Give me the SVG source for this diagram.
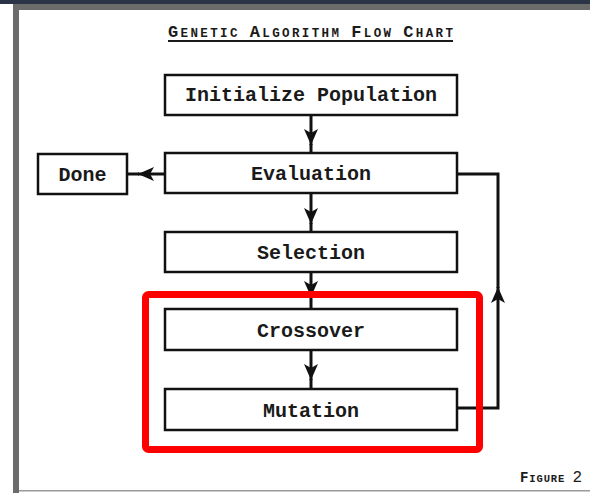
<svg xmlns="http://www.w3.org/2000/svg" width="590" height="493" viewBox="0 0 590 493">
<style>
.box{fill:#fff;stroke:#111;stroke-width:2.5}
.lbl{font-family:"Liberation Mono","DejaVu Sans Mono",monospace;font-weight:bold;font-size:20px;fill:#1a1a1a;text-anchor:middle}
.con{fill:none;stroke:#111;stroke-width:3}
.sc{font-family:"Liberation Mono","DejaVu Sans Mono",monospace;font-weight:bold;fill:#1a1a1a}
</style>
<defs>
<marker id="ah" markerUnits="userSpaceOnUse" markerWidth="18" markerHeight="14" refX="16" refY="7" orient="auto" viewBox="0 0 18 14">
<path d="M0,0 L16,7 L0,14 L4,7 z" fill="#111"/>
</marker>
</defs>
<rect x="0" y="0" width="590" height="493" fill="#fff"/>
<rect x="0" y="0" width="590" height="4" fill="#2b3346"/>
<rect x="13" y="4" width="577" height="6" fill="#6b6b6b"/>
<rect x="13" y="4" width="6" height="489" fill="#6b6b6b"/>
<rect x="19" y="490" width="571" height="1.5" fill="#9a9a9a"/>

<g id="title">
<text class="sc" x="168" y="37" textLength="285" lengthAdjust="spacing"><tspan font-size="17">G</tspan><tspan font-size="12.5">ENETIC  </tspan><tspan font-size="17">A</tspan><tspan font-size="12.5">LGORITHM  </tspan><tspan font-size="17">F</tspan><tspan font-size="12.5">LOW  </tspan><tspan font-size="17">C</tspan><tspan font-size="12.5">HART</tspan></text>
<rect x="168" y="40" width="285" height="2" fill="#1a1a1a"/>
</g>

<g id="connectors">
<path class="con" d="M311,115 V145" marker-end="url(#ah)"/><path class="con" d="M311,144 V153"/>
<path class="con" d="M311,193 V224" marker-end="url(#ah)"/><path class="con" d="M311,223 V232"/>
<path class="con" d="M311,272 V297" marker-end="url(#ah)"/><path class="con" d="M311,296 V309"/>
<path class="con" d="M311,350 V380" marker-end="url(#ah)"/><path class="con" d="M311,379 V389"/>
<path class="con" d="M165,174 H138" marker-end="url(#ah)"/><path class="con" d="M139,174 H127"/>
<path class="con" d="M457,408 H498 V287" marker-end="url(#ah)"/><path class="con" d="M498,288 V174 H457"/>
</g>

<g id="init"><rect class="box" x="165" y="75" width="292" height="40"/><text class="lbl" x="311" y="101">Initialize Population</text></g>
<g id="evaluation"><rect class="box" x="165" y="153" width="292" height="40"/><text class="lbl" x="311" y="180">Evaluation</text></g>
<g id="done"><rect class="box" x="38" y="154" width="89" height="40"/><text class="lbl" x="82.5" y="181">Done</text></g>
<g id="selection"><rect class="box" x="165" y="232" width="292" height="40"/><text class="lbl" x="311" y="259">Selection</text></g>
<g id="crossover"><rect class="box" x="165" y="309" width="292" height="41"/><text class="lbl" x="311" y="337">Crossover</text></g>
<g id="mutation"><rect class="box" x="165" y="389" width="292" height="41"/><text class="lbl" x="311" y="417">Mutation</text></g>

<g id="highlight"><rect x="145.5" y="294.5" width="334" height="155" rx="3" fill="none" stroke="#ff0000" stroke-width="7"/></g>

<g id="figure-label">
<text class="sc" x="520" y="482" textLength="62" lengthAdjust="spacing"><tspan font-size="14">F</tspan><tspan font-size="10.5">IGURE </tspan><tspan font-size="16" font-weight="normal">2</tspan></text>
</g>
</svg>
